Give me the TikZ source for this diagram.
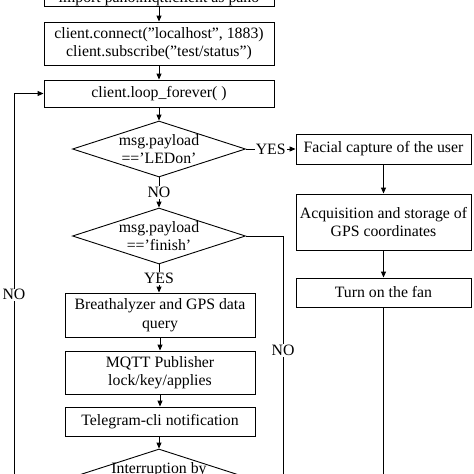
\documentclass[tikz,border=0pt]{standalone}
\usepackage{fontspec}
\setmainfont{Liberation Serif}
\usetikzlibrary{shapes.geometric,arrows.meta}
\newcommand\figfont{\fontsize{15.8pt}{18.5pt}\selectfont}
\tikzset{
  box/.style={draw, line width=0.9pt, rectangle, inner sep=0pt, align=center, font=\figfont},
  dia/.style={draw, line width=0.9pt, diamond, aspect=3.09, inner sep=-6pt, minimum width=173pt, minimum height=56pt, align=center, font=\figfont},
  lbl/.style={fill=white, inner sep=1pt, font=\figfont},
  arr/.style={line width=0.9pt, -{Triangle[length=6pt,width=5pt]}},
  ln/.style={line width=0.9pt}
}
\begin{document}
\begin{tikzpicture}[x=1pt,y=-1pt]
\useasboundingbox (0,0) rectangle (474,474);
\fill[white] (0,0) rectangle (474,474);
\clip (0,0) rectangle (474,474);
% left column
\node[box, minimum width=230pt, anchor=south, text height=22pt, text depth=1pt, inner ysep=3pt] (b1) at (159,7) {import paho.mqtt.client as paho};
\node[box, minimum width=230pt, minimum height=43pt] (b2) at (159,43.5) {client.connect("localhost", 1883)\\client.subscribe("test/status")};
\node[box, minimum width=230pt, minimum height=27pt] (b3) at (159,93.5) {client.loop\_forever( )};
\node[dia] (d1) at (159,149) {msg.payload\\=='LEDon'};
\node[dia] (d2) at (159,236) {msg.payload\\=='finish'};
\node[box, minimum width=190pt, minimum height=44pt] (b4) at (160,315) {Breathalyzer and GPS data\\query};
\node[box, minimum width=190pt, minimum height=43pt] (b5) at (160,372.5) {MQTT Publisher\\lock/key/applies};
\node[box, minimum width=190pt, minimum height=29pt] (b6) at (160,421.5) {Telegram-cli notification};
\node[dia] (d3) at (159,477) {Interruption by\\\phantom{x}};
% right column
\node[box, minimum width=175pt, minimum height=30pt] (b7) at (383.5,149) {Facial capture of the user};
\node[box, minimum width=175pt, minimum height=56pt] (b8) at (383.5,222) {Acquisition and storage of\\GPS coordinates};
\node[box, minimum width=175pt, minimum height=29pt] (b9) at (383.5,292.5) {Turn on the fan};
% coordinates
\coordinate (e9) at (383.5,480);
\coordinate (c2a) at (283,236);
\coordinate (c2b) at (283,480);
\coordinate (la) at (14,477);
\coordinate (lb) at (14,93.5);
% connectors
\draw[arr] (b1) -- (b2);
\draw[arr] (b2) -- (b3);
\draw[arr] (b3) -- (d1);
\draw[arr] (d1) -- node[lbl] (no1) {NO} (d2);
\draw[arr] (d2) -- node[lbl] (yes1) {YES} (b4.north -| d2);
\draw[arr] (b4) -- (b5);
\draw[arr] (b5) -- (b6);
\draw[arr] (b6.south -| d3) -- (d3);
\draw[arr] (d1) -- node[lbl] (yes2) {YES} (b7);
\draw[arr] (b7) -- (b8);
\draw[arr] (b8) -- (b9);
\draw[ln] (b9) -- (e9);
\draw[ln] (d2.east) -- (c2a) -- node[lbl, pos=0.47] (no2) {NO} (c2b);
\draw[arr] (d3.west) -- (la) -- node[lbl, pos=0.475] (no3) {NO} (lb) -- (b3.west);
\end{tikzpicture}
\end{document}
